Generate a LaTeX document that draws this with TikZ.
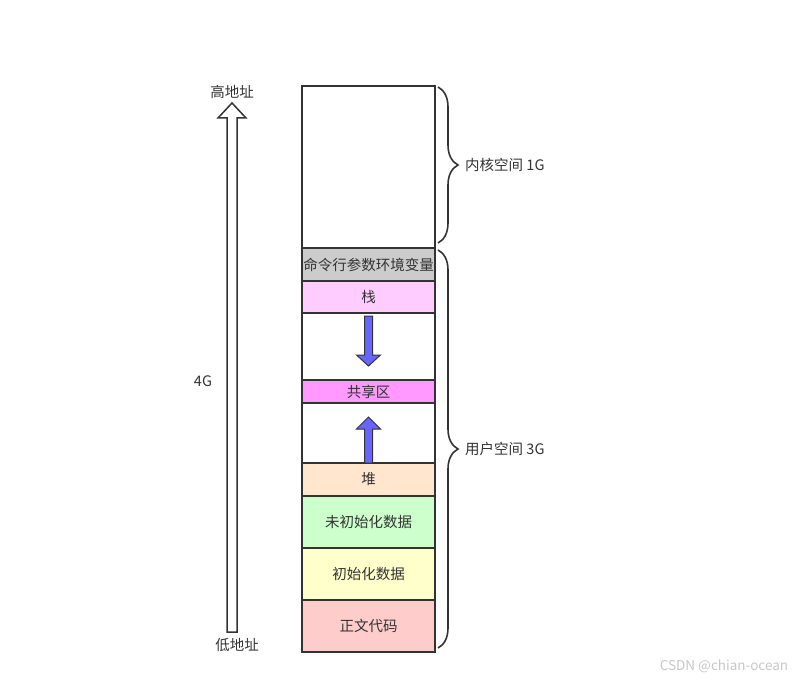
\documentclass[tikz,border=0pt]{standalone}
\usepackage{fontspec}
\setmainfont{Noto Sans CJK SC}
\usetikzlibrary{positioning,calc}
\usetikzlibrary{decorations.pathreplacing}
\definecolor{edge}{HTML}{333333}
\definecolor{envgray}{HTML}{CCCCCC}
\definecolor{stackpink}{HTML}{FFCCFF}
\definecolor{sharedpink}{HTML}{FF99FF}
\definecolor{heaporange}{HTML}{FFE6CC}
\definecolor{bssgreen}{HTML}{CCFFCC}
\definecolor{datayellow}{HTML}{FFFFCC}
\definecolor{textred}{HTML}{FFCCCC}
\definecolor{growblue}{HTML}{6666FF}
\tikzset{
	seg/.style={draw=edge, line width=1.6pt, minimum width=133pt, inner sep=0pt,
		outer sep=0pt, text=edge, font=\fontsize{14.5}{16}\selectfont},
	label/.style={text=edge, inner sep=0pt, font=\fontsize{14.5}{16}\selectfont},
	spacebrace/.style={decorate, draw=edge, line width=1.6pt,
		decoration={brace, amplitude=20pt}},
	hollowarrow/.style={draw=edge, fill=white, line width=1.5pt, line join=miter},
	growarrow/.style={draw=edge, fill=growblue, line width=1pt, line join=miter},
}
\begin{document}
\begin{tikzpicture}[x=1pt, y=-1pt]
	\useasboundingbox (0,0) rectangle (811,682);
	% memory column, top to bottom
	\node[seg, minimum height=162pt] (kernel) at (368.5,167) {};
	\node[seg, fill=envgray, minimum height=33pt, below=0pt of kernel] (env) {命令行参数环境变量};
	\node[seg, fill=stackpink, minimum height=32pt, below=0pt of env] (stack) {栈};
	\node[seg, minimum height=67pt, below=0pt of stack] (gapdown) {};
	\node[seg, fill=sharedpink, minimum height=23pt, below=0pt of gapdown] (shared) {共享区};
	\node[seg, minimum height=60pt, below=0pt of shared] (gapup) {};
	\node[seg, fill=heaporange, minimum height=33pt, below=0pt of gapup] (heap) {堆};
	\node[seg, fill=bssgreen, minimum height=52pt, below=0pt of heap] (bss) {未初始化数据};
	\node[seg, fill=datayellow, minimum height=52pt, below=0pt of bss] (data) {初始化数据};
	\node[seg, fill=textred, minimum height=52pt, below=0pt of data] (code) {正文代码};

	% growth arrows
	\draw[growarrow] ($(stack.south)+(-4,3)$) -- ++(8,0) -- ++(0,39) -- ++(8,0)
		-- ++(-12,11) -- ++(-12,-11) -- ++(8,0) -- cycle;
	\draw[growarrow] ($(heap.north)+(-4,0)$) -- ++(0,-34) -- ++(-8,0)
		-- ++(12,-12) -- ++(12,12) -- ++(-8,0) -- ++(0,34) -- cycle;

	% braces
	\coordinate (ktop) at ($(kernel.north east)+(3,1)$);
	\coordinate (kbot) at ($(kernel.south east)+(3,-5)$);
	\coordinate (utop) at ($(env.north east)+(3,2)$);
	\coordinate (ubot) at ($(code.south east)+(3,-4)$);
	\draw[spacebrace] (ktop) -- (kbot);
	\draw[spacebrace] (utop) -- (ubot);
	\node[label, anchor=west] (kname) at ($($(ktop)!.5!(kbot)$)+(27,0)$) {内核空间 1G};
	\node[label, anchor=west] (uname) at ($($(utop)!.5!(ubot)$)+(27,0)$) {用户空间 3G};

	% address arrow
	\node[label] (high) at (232,92) {高地址};
	\node[label] (low) at (237,645) {低地址};
	\node[label] (size) at (203,381) {4G};
	\coordinate (atail) at (232,632);
	\coordinate (ahead) at (232,103);
	\draw[hollowarrow] ($(atail)+(-5,0)$) -- ($(ahead)+(-5,15)$) -- ++(-9,0) -- (ahead)
		-- ($(ahead)+(14,15)$) -- ++(-9,0) -- ($(atail)+(5,0)$) -- cycle;

	\node[text=black!22, font=\fontsize{13.5}{15}\selectfont] (mark) at (724,666) {CSDN @chian-ocean};
\end{tikzpicture}
\end{document}
